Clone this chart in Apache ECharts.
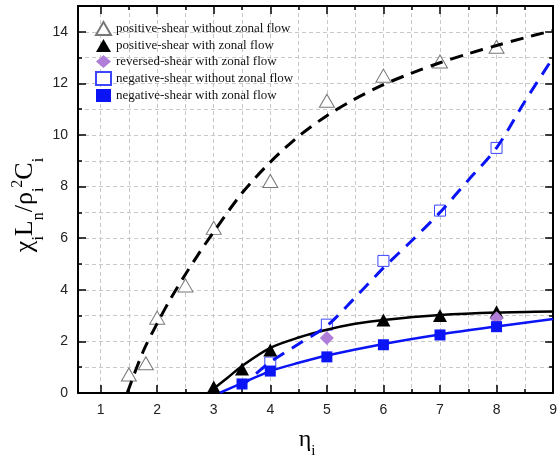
<!DOCTYPE html>
<html><head><meta charset="utf-8">
<script src="https://cdn.jsdelivr.net/npm/echarts@6/dist/echarts.min.js"></script>
<style>html,body{margin:0;padding:0;background:#fff}#c{width:560px;height:459px}</style>
</head><body><div id="c"></div>
<script>
// ---- data ----
const posNoZF_x = [1.5, 1.8, 2, 2.5, 3, 4, 5, 6, 7, 8];
const posNoZF_y = [0.72, 1.15, 2.92, 4.17, 6.4, 8.22, 11.33, 12.3, 12.85, 13.42];
const posZF_x = [3, 3.5, 4, 6, 7, 8];
const posZF_y = [0.23, 0.93, 1.67, 2.83, 3.0, 3.15];
const rev_x = [5, 8];
const rev_y = [2.13, 2.9];
const negNoZF_x = [4, 5, 6, 7, 8];
const negNoZF_y = [1.18, 2.65, 5.12, 7.07, 9.5];
const negZF_x = [3.5, 4, 5, 6, 7, 8];
const negZF_y = [0.35, 0.85, 1.4, 1.87, 2.25, 2.57];
// fitted curves
const fitPosNoZF_x = [1.47, 1.75, 2, 2.25, 2.5, 2.75, 3, 3.5, 4, 4.5, 5, 5.5, 6, 6.5, 7, 7.5, 8, 8.5, 9];
const fitPosNoZF_y = [0, 1.6, 2.7, 3.7, 4.6, 5.45, 6.25, 7.75, 8.95, 9.95, 10.75, 11.4, 11.95, 12.4, 12.8, 13.15, 13.47, 13.77, 14.05];
const fitPosZF_x = [2.9, 3.25, 3.5, 4, 4.5, 5, 5.5, 6, 7, 8, 9];
const fitPosZF_y = [0, 0.6, 1.05, 1.75, 2.15, 2.45, 2.68, 2.83, 3.02, 3.12, 3.16];
const fitNegNoZF_x = [3.45, 3.75, 4, 4.5, 5, 5.5, 6, 6.5, 7, 7.5, 8, 8.5, 9];
const fitNegNoZF_y = [0.2, 0.75, 1.2, 1.9, 2.6, 3.7, 4.85, 5.9, 7.0, 8.25, 9.5, 11.3, 13.0];
const fitNegZF_x = [3.1, 3.5, 4, 4.5, 5, 6, 7, 8, 9];
const fitNegZF_y = [0, 0.38, 0.85, 1.17, 1.45, 1.9, 2.27, 2.58, 2.87];
const xMajor = [1, 2, 3, 4, 5, 6, 7, 8, 9];
const xAll = [1, 1.5, 2, 2.5, 3, 3.5, 4, 4.5, 5, 5.5, 6, 6.5, 7, 7.5, 8, 8.5, 9];
const yMajor = [0, 2, 4, 6, 8, 10, 12, 14];
const yAll = [0, 1, 2, 3, 4, 5, 6, 7, 8, 9, 10, 11, 12, 13, 14];
const legendNames = ['positive-shear without zonal flow', 'positive-shear with zonal flow',
  'reversed-shear with zonal flow', 'negative-shear without zonal flow', 'negative-shear with zonal flow'];

const zip = (a, b) => a.map((v, i) => [v, b[i]]);
const X0 = 0.6, X1 = 9, Y0 = 0, Y1 = 15;
const gridColor = '#c8c8c8';
const lab = { fontFamily: 'Liberation Sans, Arial, sans-serif', fontSize: 14, color: '#222' };

function xAx(pos, vals, len, labels, split, line) {
  return {
    type: 'value', min: X0, max: X1, position: pos,
    axisLine: { show: line, onZero: false, lineStyle: { color: '#000', width: 2 } },
    axisTick: { show: true, inside: true, customValues: vals, length: len, lineStyle: { color: '#000', width: 1.5 } },
    axisLabel: labels ? Object.assign({ show: true, customValues: vals, margin: 10 }, lab) : { show: false },
    splitLine: { show: split, lineStyle: { color: gridColor, type: [4, 3], width: 1 } },
    minorTick: { show: false }
  };
}
function yAx(pos, vals, len, labels, split, line) {
  return {
    type: 'value', min: Y0, max: Y1, position: pos,
    axisLine: { show: line, onZero: false, lineStyle: { color: '#000', width: 2 } },
    axisTick: { show: true, inside: true, customValues: vals, length: len, lineStyle: { color: '#000', width: 1.5 } },
    axisLabel: labels ? Object.assign({ show: true, customValues: vals, margin: 10 }, lab) : { show: false },
    splitLine: { show: split, lineStyle: { color: gridColor, type: [4, 3], width: 1 } },
    minorTick: { show: false }
  };
}

const chart = echarts.init(document.getElementById('c'), null, { renderer: 'canvas' });
chart.setOption({
  animation: false,
  backgroundColor: '#fff',
  grid: { left: 78, top: 6, width: 480, height: 387 },
  xAxis: [
    xAx('bottom', xMajor, 8, true, false, true),
    xAx('bottom', xAll, 4, false, true, false),
    xAx('top', xMajor, 8, false, false, true),
    xAx('top', xAll, 4, false, false, false)
  ],
  yAxis: [
    yAx('left', yMajor, 8, true, false, true),
    yAx('left', yAll, 4, false, true, false),
    yAx('right', yMajor, 8, false, false, true),
    yAx('right', yAll, 4, false, false, false)
  ],
  legend: {
    orient: 'vertical', left: 90, top: 16, itemWidth: 15, itemHeight: 13, itemGap: 3,
    data: legendNames,
    textStyle: { fontFamily: 'Liberation Serif, Times New Roman, serif', fontSize: 13, color: '#111' }
  },
  graphic: [
    { type: 'text', x: 25, y: 205, rotation: Math.PI / 2,
      style: { text: '{a|χ}{s|i}{a|L}{s|n}{a|/ρ}{s|i}{p|2}{a|C}{s|i}', align: 'center', verticalAlign: 'middle',
        rich: {
          a: { fontFamily: 'Liberation Serif, serif', fontSize: 26, color: '#111', lineHeight: 30 },
          s: { fontFamily: 'Liberation Serif, serif', fontSize: 16, color: '#111', verticalAlign: 'bottom', lineHeight: 30, padding: [0, 0, -7, 0] },
          p: { fontFamily: 'Liberation Serif, serif', fontSize: 16, color: '#111', verticalAlign: 'top', lineHeight: 30 }
        } } },
    { type: 'text', x: 307, y: 440,
      style: { text: '{a|η}{s|i}', align: 'center', verticalAlign: 'middle',
        rich: {
          a: { fontFamily: 'Liberation Serif, serif', fontSize: 24, color: '#111', lineHeight: 28 },
          s: { fontFamily: 'Liberation Serif, serif', fontSize: 15, color: '#111', verticalAlign: 'bottom', lineHeight: 28, padding: [0, 0, -5, 0] }
        } } }
  ],
  series: [
    { type: 'line', smooth: 0.3, showSymbol: false, data: zip(fitPosNoZF_x, fitPosNoZF_y), z: 3,
      lineStyle: { color: '#000', width: 3, type: [13, 8] } },
    { type: 'line', smooth: 0.3, showSymbol: false, data: zip(fitPosZF_x, fitPosZF_y), z: 3,
      lineStyle: { color: '#000', width: 2.5 } },
    { type: 'line', smooth: 0.3, showSymbol: false, data: zip(fitNegNoZF_x, fitNegNoZF_y), z: 3,
      lineStyle: { color: '#0a14f5', width: 3, type: [13, 9] } },
    { type: 'line', smooth: 0.3, showSymbol: false, data: zip(fitNegZF_x, fitNegZF_y), z: 3,
      lineStyle: { color: '#0a14f5', width: 2.5 } },
    { name: legendNames[0], type: 'scatter', symbol: 'triangle', symbolSize: [15, 13], z: 2,
      data: zip(posNoZF_x, posNoZF_y), itemStyle: { color: '#fff', borderColor: '#777', borderWidth: 1, opacity: 1 } },
    { name: legendNames[1], type: 'scatter', symbol: 'triangle', symbolSize: [14, 13], z: 4,
      data: zip(posZF_x, posZF_y), itemStyle: { color: '#000', opacity: 1 } },
    { name: legendNames[2], type: 'scatter', symbol: 'diamond', symbolSize: [14, 14], z: 4,
      data: zip(rev_x, rev_y), itemStyle: { color: '#b07ed8', opacity: 1 } },
    { name: legendNames[3], type: 'scatter', symbol: 'rect', symbolSize: [11, 11], z: 2,
      data: zip(negNoZF_x, negNoZF_y), itemStyle: { color: '#fff', borderColor: '#3c46ff', borderWidth: 1, opacity: 1 } },
    { name: legendNames[4], type: 'scatter', symbol: 'rect', symbolSize: [11, 11], z: 4,
      data: zip(negZF_x, negZF_y), itemStyle: { color: '#0a14f5', opacity: 1 } }
  ]
});
</script></body></html>
